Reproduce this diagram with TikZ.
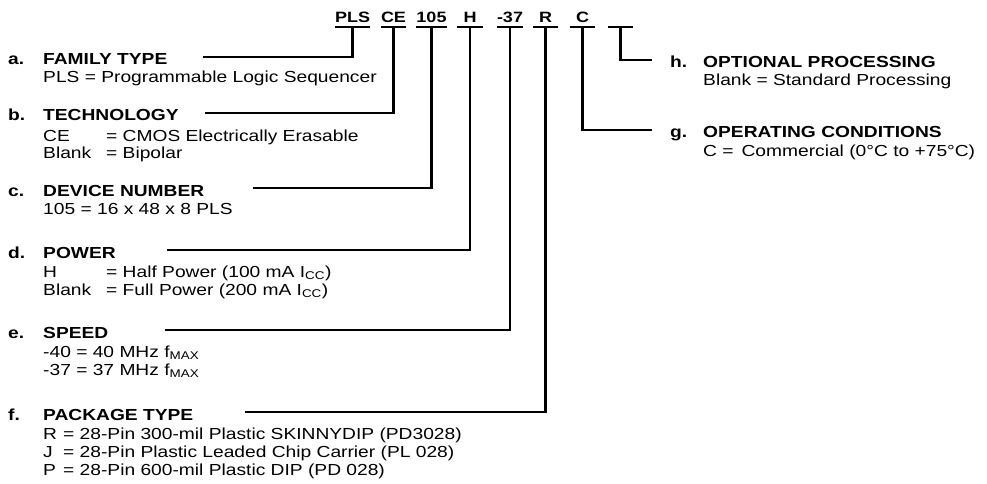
\documentclass[tikz,border=0pt]{standalone}
\usepackage{fontspec}
\setmainfont[FakeStretch=1.2]{Liberation Sans}
\usetikzlibrary{positioning, calc}

\tikzset{
  code/.style={font=\fontsize{15}{18}\selectfont\bfseries, inner sep=0pt, anchor=base, minimum width=25pt},
  letter/.style={font=\fontsize{16}{19}\selectfont\bfseries, inner sep=0pt, anchor=base west},
  title/.style={font=\fontsize{16}{19}\selectfont\bfseries, inner sep=0pt, anchor=base west},
  desc/.style={font=\fontsize{16}{19}\selectfont, inner sep=0pt, anchor=base west},
  lead/.style={line width=2.2pt},
}

\begin{document}
\begin{tikzpicture}[x=1pt, y=-1pt]
  \useasboundingbox (0,0) rectangle (987,484);

  % Ordering code
  \node[code] (pls) at (352.5,23) {PLS};
  \node[code] (ce) at (393.5,23) {CE};
  \node[code] (num) at (431.5,23) {105};
  \node[code] (pwr) at (470,23) {H};
  \node[code] (spd) at (510,23) {-37};
  \node[code] (pkg) at (545.5,23) {R};
  \node[code] (cond) at (582.5,23) {C};
  \node[code] (opt) at (620.5,23) {};

  % a. family type
  \node[letter] (la) at (8,65) {a.};
  \node[title] (ta) at (43,65) {FAMILY TYPE};
  \node[desc] (da) at (43,83) {PLS = Programmable Logic Sequencer};
  \coordinate (ea) at (203,57);

  % b. technology
  \node[letter] (lb) at (8,121) {b.};
  \node[title] (tb) at (43,121) {TECHNOLOGY};
  \node[desc] (kb1) at (43,141) {CE};
  \node[desc] (db1) at (106,141) {= CMOS Electrically Erasable};
  \node[desc] (kb2) at (43,158) {Blank};
  \node[desc] (db2) at (106,158) {= Bipolar};
  \coordinate (eb) at (205,113);

  % c. device number
  \node[letter] (lc) at (8,196) {c.};
  \node[title] (tc) at (43,196) {DEVICE NUMBER};
  \node[desc] (dc) at (43,214) {105 = 16 x 48 x 8 PLS};
  \coordinate (ec) at (253,188);

  % d. power
  \node[letter] (ld) at (8,258) {d.};
  \node[title] (td) at (43,258) {POWER};
  \node[desc] (kd1) at (43,277) {H};
  \node[desc] (dd1) at (106,277) {= Half Power (100 mA I\textsubscript{CC})};
  \node[desc] (kd2) at (43,295) {Blank};
  \node[desc] (dd2) at (106,295) {= Full Power (200 mA I\textsubscript{CC})};
  \coordinate (ed) at (167,250);

  % e. speed
  \node[letter] (le) at (8,338) {e.};
  \node[title] (te) at (43,338) {SPEED};
  \node[desc] (de1) at (43,357) {-40 = 40 MHz f\textsubscript{MAX}};
  \node[desc] (de2) at (43,375) {-37 = 37 MHz f\textsubscript{MAX}};
  \coordinate (ee) at (165,330);

  % f. package type
  \node[letter] (lf) at (8,420) {f.};
  \node[title] (tf) at (43,420) {PACKAGE TYPE};
  \node[desc] (kf1) at (43,439) {R};
  \node[desc] (df1) at (63,439) {= 28-Pin 300-mil Plastic SKINNYDIP (PD3028)};
  \node[desc] (kf2) at (43,457) {J};
  \node[desc] (df2) at (63,457) {= 28-Pin Plastic Leaded Chip Carrier (PL 028)};
  \node[desc] (kf3) at (43,475) {P};
  \node[desc] (df3) at (63,475) {= 28-Pin 600-mil Plastic DIP (PD 028)};
  \coordinate (ef) at (245,412);

  % h. optional processing
  \node[letter] (lh) at (670,68) {h.};
  \node[title] (th) at (703,68) {OPTIONAL PROCESSING};
  \node[desc] (dh) at (703,86) {Blank = Standard Processing};
  \coordinate (eh) at (652,60);

  % g. operating conditions
  \node[letter] (lg) at (670,138) {g.};
  \node[title] (tg) at (703,138) {OPERATING CONDITIONS};
  \node[desc] (dg) at (703,156) {C = \,Commercial (0°C to +75°C)};
  \coordinate (eg) at (652,130);

  % leaders
  \foreach \c/\e in {pls/ea, ce/eb, num/ec, pwr/ed, spd/ee, pkg/ef, cond/eg, opt/eh}
    \draw[lead] ([yshift=-4pt]\c.base west) -- ([yshift=-4pt]\c.base east)
                ([yshift=-4pt]\c.base) |- (\e);
\end{tikzpicture}
\end{document}
